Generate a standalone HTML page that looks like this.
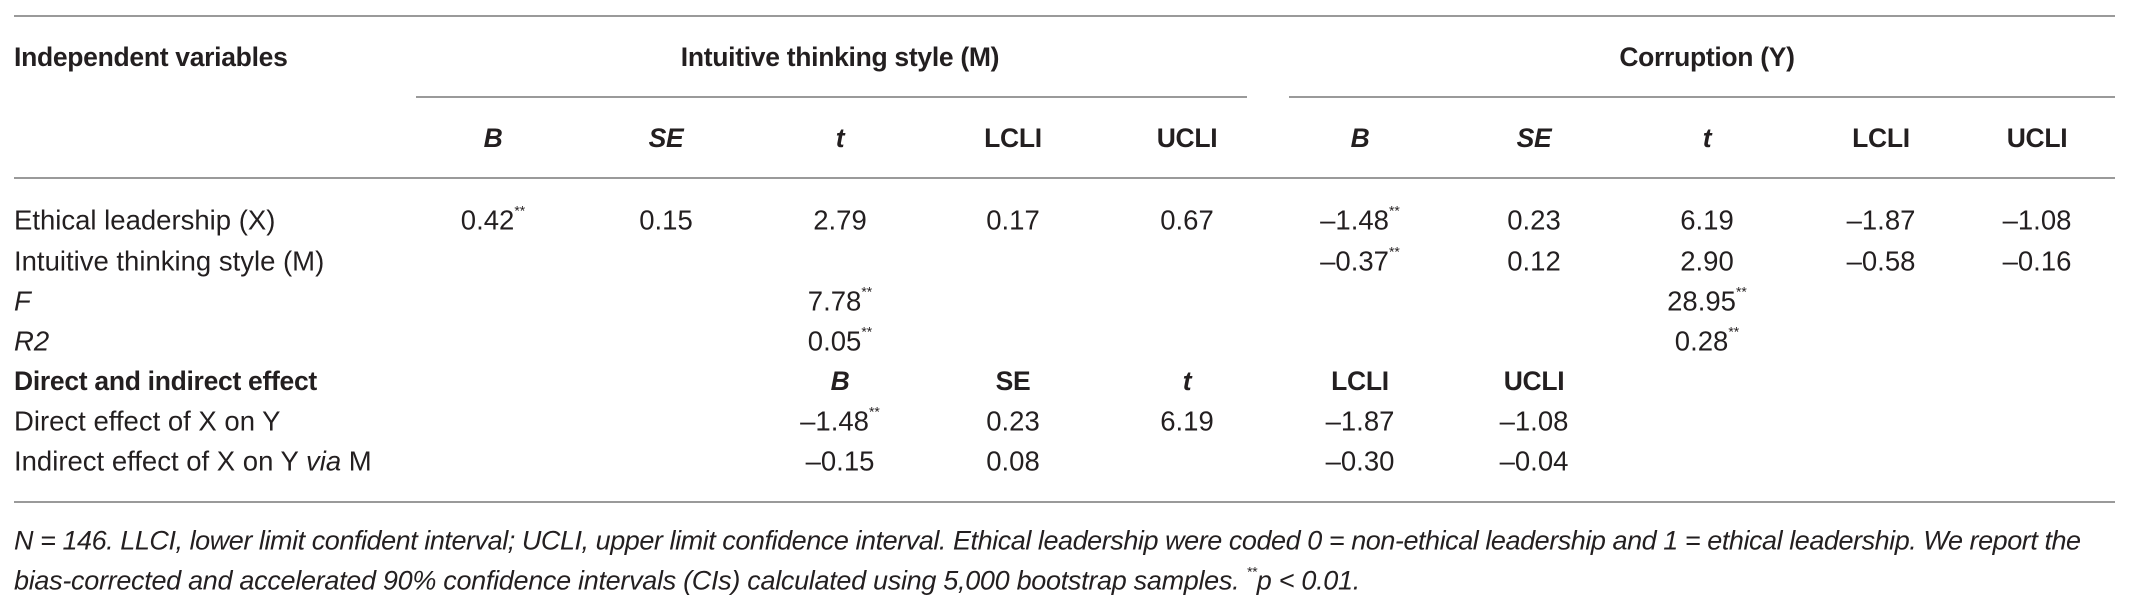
<!DOCTYPE html>
<html><head><meta charset="utf-8"><style>
body{margin:0;width:2131px;height:595px;background:#fff;position:relative;overflow:hidden;font-family:"Liberation Sans",sans-serif;color:#231f20;}
.l{position:absolute;height:2px;background:#9a9a9a;}
.t{position:absolute;font-size:27.5px;white-space:nowrap;line-height:1;transform:translateY(-50%);}
.c{transform:translate(-50%,-50%);}
.b{font-weight:bold;font-size:26.5px;letter-spacing:-0.3px;}
.i{font-style:italic;}
sup{font-size:14px;vertical-align:top;position:relative;top:-3px;}
</style></head><body>
<div class="l" style="left:14px;width:2101px;top:15px"></div>
<div class="l" style="left:416px;width:831px;top:96px"></div>
<div class="l" style="left:1289px;width:826px;top:96px"></div>
<div class="l" style="left:14px;width:2101px;top:177px"></div>
<div class="l" style="left:14px;width:2101px;top:501px"></div>

<div class="t b" style="left:14px;top:57px">Independent variables</div>
<div class="t b c" style="left:840px;top:57px">Intuitive thinking style (M)</div>
<div class="t b c" style="left:1707px;top:57px">Corruption (Y)</div>

<div class="t b i c" style="left:493px;top:138px">B</div>
<div class="t b i c" style="left:666px;top:138px">SE</div>
<div class="t b i c" style="left:840px;top:138px">t</div>
<div class="t b c" style="left:1013px;top:138px">LCLI</div>
<div class="t b c" style="left:1187px;top:138px">UCLI</div>
<div class="t b i c" style="left:1360px;top:138px">B</div>
<div class="t b i c" style="left:1534px;top:138px">SE</div>
<div class="t b i c" style="left:1707px;top:138px">t</div>
<div class="t b c" style="left:1881px;top:138px">LCLI</div>
<div class="t b c" style="left:2037px;top:138px">UCLI</div>

<div class="t" style="left:14px;top:220px">Ethical leadership (X)</div>
<div class="t c" style="left:493px;top:220px">0.42<sup>**</sup></div>
<div class="t c" style="left:666px;top:220px">0.15</div>
<div class="t c" style="left:840px;top:220px">2.79</div>
<div class="t c" style="left:1013px;top:220px">0.17</div>
<div class="t c" style="left:1187px;top:220px">0.67</div>
<div class="t c" style="left:1360px;top:220px">–1.48<sup>**</sup></div>
<div class="t c" style="left:1534px;top:220px">0.23</div>
<div class="t c" style="left:1707px;top:220px">6.19</div>
<div class="t c" style="left:1881px;top:220px">–1.87</div>
<div class="t c" style="left:2037px;top:220px">–1.08</div>

<div class="t" style="left:14px;top:261px">Intuitive thinking style (M)</div>
<div class="t c" style="left:1360px;top:261px">–0.37<sup>**</sup></div>
<div class="t c" style="left:1534px;top:261px">0.12</div>
<div class="t c" style="left:1707px;top:261px">2.90</div>
<div class="t c" style="left:1881px;top:261px">–0.58</div>
<div class="t c" style="left:2037px;top:261px">–0.16</div>

<div class="t i" style="left:14px;top:301px">F</div>
<div class="t c" style="left:840px;top:301px">7.78<sup>**</sup></div>
<div class="t c" style="left:1707px;top:301px">28.95<sup>**</sup></div>

<div class="t i" style="left:14px;top:341px">R2</div>
<div class="t c" style="left:840px;top:341px">0.05<sup>**</sup></div>
<div class="t c" style="left:1707px;top:341px">0.28<sup>**</sup></div>

<div class="t b" style="left:14px;top:381px">Direct and indirect effect</div>
<div class="t b i c" style="left:840px;top:381px">B</div>
<div class="t b c" style="left:1013px;top:381px">SE</div>
<div class="t b i c" style="left:1187px;top:381px">t</div>
<div class="t b c" style="left:1360px;top:381px">LCLI</div>
<div class="t b c" style="left:1534px;top:381px">UCLI</div>

<div class="t" style="left:14px;top:421px">Direct effect of X on Y</div>
<div class="t c" style="left:840px;top:421px">–1.48<sup>**</sup></div>
<div class="t c" style="left:1013px;top:421px">0.23</div>
<div class="t c" style="left:1187px;top:421px">6.19</div>
<div class="t c" style="left:1360px;top:421px">–1.87</div>
<div class="t c" style="left:1534px;top:421px">–1.08</div>

<div class="t" style="left:14px;top:461px">Indirect effect of X on Y <i>via</i> M</div>
<div class="t c" style="left:840px;top:461px">–0.15</div>
<div class="t c" style="left:1013px;top:461px">0.08</div>
<div class="t c" style="left:1360px;top:461px">–0.30</div>
<div class="t c" style="left:1534px;top:461px">–0.04</div>

<div class="t i" style="left:14px;top:541px;font-size:27px;letter-spacing:-0.45px">N = 146. LLCI, lower limit confident interval; UCLI, upper limit confidence interval. Ethical leadership were coded 0 = non-ethical leadership and 1 = ethical leadership. We report the</div>
<div class="t i" style="left:14px;top:581px;font-size:27px;letter-spacing:-0.3px">bias-corrected and accelerated 90% confidence intervals (CIs) calculated using 5,000 bootstrap samples. <sup>**</sup>p &lt; 0.01.</div>
</body></html>
